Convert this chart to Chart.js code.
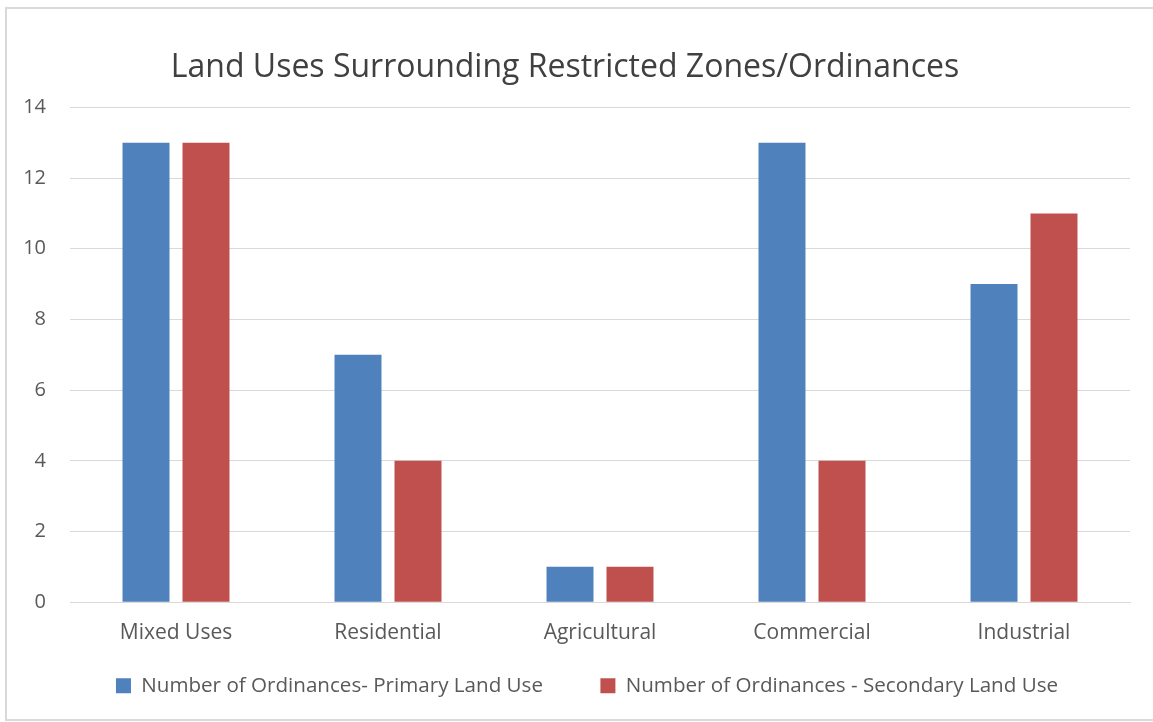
<!DOCTYPE html>
<html>
<head>
<meta charset="utf-8">
<script src="https://cdn.jsdelivr.net/npm/chart.js@4"></script>
<style>
  body { margin: 0; background: #fff; }
  #wrap { position: relative; width: 1153px; height: 722px; overflow: hidden; }
  #frame { position: absolute; left: 5px; top: 7px; width: 1160px; height: 710px; border: 2px solid #d9d9d9; }
  canvas { position: absolute; left: 0; top: 0; }
</style>
</head>
<body>
<div id="wrap">
  <div id="frame"></div>
  <canvas id="chart" width="1153" height="722"></canvas>
</div>
<script>
const categories = ["Mixed Uses", "Residential", "Agricultural", "Commercial", "Industrial"];
const primaryUse = [13, 7, 1, 13, 9];
const secondaryUse = [13, 4, 1, 4, 11];
const seriesNames = ["Number of Ordinances- Primary Land Use", "Number of Ordinances - Secondary Land Use"];
const yTicks = [0, 2, 4, 6, 8, 10, 12, 14];

const font = "'Open Sans', sans-serif";

// the legend in the original sits a bit right of the title's centre
const shiftLegend = {
  id: "shiftLegend",
  afterLayout(chart) {
    chart.legend.left += 22;
    chart.legend.right += 22;
  }
};

new Chart(document.getElementById("chart"), {
  type: "bar",
  data: {
    labels: categories,
    datasets: [
      { label: seriesNames[0], data: primaryUse, backgroundColor: "#4f81bd" },
      { label: seriesNames[1], data: secondaryUse, backgroundColor: "#c0504d" }
    ]
  },
  plugins: [shiftLegend],
  options: {
    responsive: false,
    animation: false,
    layout: { padding: { left: 0, right: 23, top: 0, bottom: 16 } },
    datasets: { bar: { categoryPercentage: 0.566, barPercentage: 0.783 } },
    plugins: {
      title: {
        display: true,
        text: "Land Uses Surrounding Restricted Zones/Ordinances",
        color: "#404040",
        font: { family: font, size: 32, weight: "normal" },
        padding: { top: 49, bottom: 20 }
      },
      legend: {
        position: "bottom",
        labels: {
          color: "#595959",
          font: { family: font, size: 20.6 },
          boxWidth: 15,
          boxHeight: 15,
          padding: 20,
          // wider gap between the two entries, like the original
          generateLabels: chart => {
            const items = Chart.defaults.plugins.legend.labels.generateLabels(chart);
            items[0].text += "       ";
            return items;
          }
        }
      },
      tooltip: { enabled: false }
    },
    scales: {
      x: {
        grid: { display: false },
        border: { color: "#d9d9d9" },
        ticks: { color: "#595959", font: { family: font, size: 21 }, padding: 10 }
      },
      y: {
        min: 0,
        max: 14,
        afterFit: s => { s.width = 70; },
        afterBuildTicks: s => { s.ticks = yTicks.map(v => ({ value: v })); },
        grid: { color: "#d9d9d9", drawTicks: false },
        border: { display: false },
        ticks: { color: "#595959", font: { family: font, size: 20 }, padding: 24 }
      }
    }
  }
});
</script>
</body>
</html>
